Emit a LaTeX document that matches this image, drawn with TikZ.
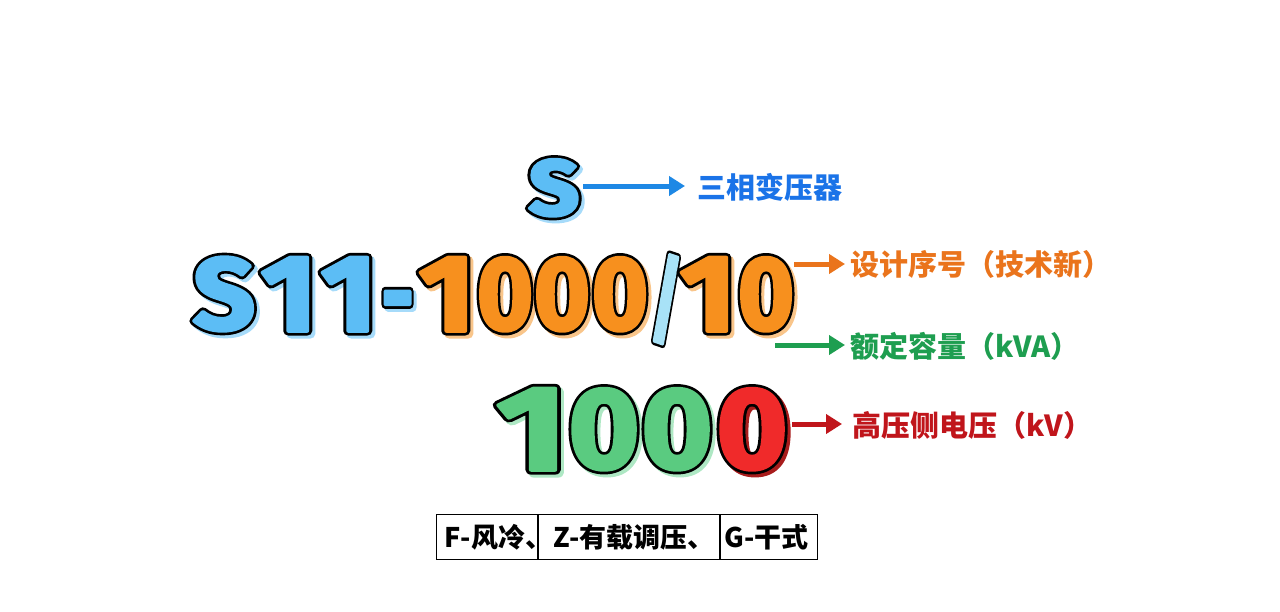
\documentclass[tikz,border=0pt]{standalone}
\usepackage{fontspec}
\usepackage{graphicx}
\usetikzlibrary{arrows.meta}
\newfontfamily\bigfont{Fira Sans}
\newfontfamily\cjk{Noto Sans CJK SC}
\definecolor{fBlue}{HTML}{5CBDF5}
\definecolor{sBlue}{HTML}{A6DBFA}
\definecolor{fOrange}{HTML}{F7901E}
\definecolor{sOrange}{HTML}{F9C58A}
\definecolor{fSlash}{HTML}{A8E2F7}
\definecolor{fGreen}{HTML}{5ACB80}
\definecolor{sGreen}{HTML}{AEE8C4}
\definecolor{fRed}{HTML}{F02A2A}
\definecolor{sRed}{HTML}{A81C1C}
\definecolor{lBlue}{HTML}{1A73E8}
\definecolor{aBlue}{HTML}{1E88E5}
\definecolor{lOrange}{HTML}{EA741C}
\definecolor{lGreen}{HTML}{1E9E50}
\definecolor{lRed}{HTML}{C0151B}
% outlined, emboldened glyph: black wide stroke underneath, fill-coloured stroke on top
\newcommand{\outl}[2]{\rlap{\color{black}\special{pdf:literal direct 9 w 1 j 2 Tr}#2\special{pdf:literal direct 0 Tr}}{\color{#1}\special{pdf:literal direct 3.5 w 1 j 2 Tr}#2\special{pdf:literal direct 0 Tr}}}
\newcommand{\shad}[2]{{\color{#1}\special{pdf:literal direct 9 w 1 j 2 Tr}#2\special{pdf:literal direct 0 Tr}}}
\tikzset{
  big/.style={inner sep=0pt, outer sep=0pt, anchor=south},
  topf/.style={font=\bigfont\bfseries\fontsize{80}{80}\selectfont},
  midf/.style={font=\bigfont\bfseries\fontsize{106}{106}\selectfont},
  botf/.style={font=\bigfont\bfseries\fontsize{118}{118}\selectfont},
  shadow/.style={xshift=3pt, yshift=-3pt},
  lbl/.style={inner sep=0pt, anchor=west, font=\fontsize{29}{29}\cjk\bfseries},
  arr/.style={line width=5pt, -{Triangle[length=16pt,width=19pt]}},
  cell/.style={draw=black, line width=1pt, minimum height=45pt, inner sep=0pt, anchor=north west, font=\fontsize{27}{27}\cjk\bfseries},
}
% glyph: name, position, width, total height, fill, shadow colour, character, font style
\newcommand{\gly}[8]{%
  \node[big, #8, shadow] (#1s) at #2 {\resizebox*{#3pt}{#4pt}{\shad{#6}{#7}}};
  \node[big, #8] (#1) at #2 {\resizebox*{#3pt}{#4pt}{\outl{#5}{#7}}};
}
\begin{document}
\begin{tikzpicture}[x=1pt,y=-1pt]
\useasboundingbox[fill=white] (0,0) rectangle (1280,611);
% top S
\gly{S0}{(554,216)}{50}{56.5}{fBlue}{sBlue}{S}{topf}
% main line  S11-1000/10
\gly{mS}{(224,331)}{62}{74}{fBlue}{sBlue}{S}{midf}
\gly{mOne}{(289,331)}{56}{73.5}{fBlue}{sBlue}{1}{midf}
\gly{mTwo}{(349,331)}{56}{73.5}{fBlue}{sBlue}{1}{midf}
\node[big, midf, anchor=base, shadow] (mHs) at (397.5,331) {\scalebox{0.75}[1]{\shad{sBlue}{-}}};
\node[big, midf, anchor=base] (mH) at (397.5,331) {\scalebox{0.75}[1]{\outl{fBlue}{-}}};
\gly{mA}{(447,331)}{56}{73.5}{fOrange}{sOrange}{1}{midf}
\gly{mB}{(505,331)}{56}{73.5}{fOrange}{sOrange}{0}{midf}
\gly{mC}{(562,331)}{56}{73.5}{fOrange}{sOrange}{0}{midf}
\gly{mD}{(620,331)}{56}{73.5}{fOrange}{sOrange}{0}{midf}
\node[big, midf] (mSl) at (666,344) {\resizebox*{34pt}{89.5pt}{\outl{fSlash}{/}}};
\gly{mE}{(708,331)}{56}{73.5}{fOrange}{sOrange}{1}{midf}
\gly{mF}{(766,331)}{56}{73.5}{fOrange}{sOrange}{0}{midf}
% bottom number 1000
\gly{bA}{(532,470)}{71}{81.5}{fGreen}{sGreen}{1}{botf}
\gly{bB}{(604,470)}{71}{81.5}{fGreen}{sGreen}{0}{botf}
\gly{bC}{(677,470)}{71}{81.5}{fGreen}{sGreen}{0}{botf}
\gly{bD}{(752,470)}{71}{81.5}{fRed}{sRed}{0}{botf}
% labels
\node[lbl, text=lBlue] (l1) at (697,187) {三相变压器};
\node[lbl, text=lOrange] (l2) at (850,264) {设计序号（技术新）};
\node[lbl, text=lGreen] (l3) at (850,346) {额定容量（kVA）};
\node[lbl, text=lRed] (l4) at (852,425) {高压侧电压（kV）};
% arrows
\coordinate (a1) at (583,186);
\coordinate (a2) at (794,264);
\coordinate (a3) at (775,345);
\coordinate (a4) at (792,424);
\draw[arr, aBlue] (a1) -- ([xshift=-12pt]l1.west |- a1);
\draw[arr, lOrange] (a2) -- ([xshift=-5pt]l2.west |- a2);
\draw[arr, lGreen] (a3) -- ([xshift=-5pt]l3.west |- a3);
\draw[arr, lRed] (a4) -- ([xshift=-10pt]l4.west |- a4);
% table
\node[cell] (t1) at (436,514) {\makebox[101pt][l]{\hspace{8pt}F-风冷、}};
\node[cell] (t2) at (t1.north east) {\makebox[181pt][l]{\hspace{15pt}Z-有载调压、}};
\node[cell] (t3) at (t2.north east) {\makebox[97pt][l]{\hspace{4pt}G-干式}};
\end{tikzpicture}
\end{document}
